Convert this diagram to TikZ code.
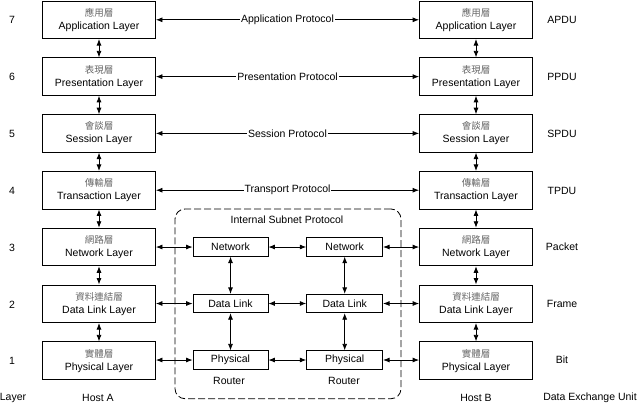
\documentclass[tikz,border=0pt]{standalone}
\usepackage{fontspec}
\setmainfont{Liberation Sans}
\newfontfamily\cjk{Noto Sans CJK TC}
\usetikzlibrary{arrows.meta}
\newcommand\zhtxt[1]{{\color{black!60}\cjk\fontsize{9.5}{13}\selectfont #1}}
\begin{document}
\begin{tikzpicture}[x=1pt,y=-1pt,
  font=\fontsize{10.5}{13}\selectfont,
  lay/.style={draw, line width=0.8pt, minimum width=113pt, minimum height=37.7pt, inner sep=0pt, align=center},
  rt/.style={draw, line width=0.8pt, minimum height=18.5pt, inner sep=0pt},
  dbl/.style={{Latex[length=6.5pt,width=5pt]}-{Latex[length=6.5pt,width=5pt]}, line width=0.8pt},
  plabel/.style={fill=white, inner sep=1pt},
  txt/.style={inner sep=0pt}]
\useasboundingbox (0,0) rectangle (637,405);
% subnet
\node[draw, dashed, dash pattern=on 7pt off 3pt, rounded corners=10pt, line width=0.8pt,
      minimum width=226pt, minimum height=189.7pt, inner sep=0pt] (subnet) at (288,303.85) {};
% Host A
\node[lay] (a7) at (99,19.8) {\zhtxt{應用層}\\Application Layer};
\node[lay] (a6) at (99,76.6) {\zhtxt{表現層}\\Presentation Layer};
\node[lay] (a5) at (99,133.4) {\zhtxt{會談層}\\Session Layer};
\node[lay] (a4) at (99,190.2) {\zhtxt{傳輸層}\\Transaction Layer};
\node[lay] (a3) at (99,247) {\zhtxt{網路層}\\Network Layer};
\node[lay] (a2) at (99,303.8) {\zhtxt{資料連結層}\\Data Link Layer};
\node[lay] (a1) at (99,360.6) {\zhtxt{實體層}\\Physical Layer};
% Host B
\node[lay] (b7) at (476,19.8) {\zhtxt{應用層}\\Application Layer};
\node[lay] (b6) at (476,76.6) {\zhtxt{表現層}\\Presentation Layer};
\node[lay] (b5) at (476,133.4) {\zhtxt{會談層}\\Session Layer};
\node[lay] (b4) at (476,190.2) {\zhtxt{傳輸層}\\Transaction Layer};
\node[lay] (b3) at (476,247) {\zhtxt{網路層}\\Network Layer};
\node[lay] (b2) at (476,303.8) {\zhtxt{資料連結層}\\Data Link Layer};
\node[lay] (b1) at (476,360.6) {\zhtxt{實體層}\\Physical Layer};
% Routers
\node[rt, minimum width=75pt] (n1) at (230.5,247) {Network};
\node[rt, minimum width=75pt] (d1) at (230.5,303.5) {Data Link};
\node[rt, minimum width=75pt] (p1) at (230.5,360) {Physical};
\node[rt, minimum width=76pt] (n2) at (344.7,247) {Network};
\node[rt, minimum width=76pt] (d2) at (344.7,303.5) {Data Link};
\node[rt, minimum width=76pt] (p2) at (344.7,360) {Physical};
% layer numbers
\node[txt] (l7) at (12,20) {7};
\node[txt] (l6) at (12,77) {6};
\node[txt] (l5) at (12,134) {5};
\node[txt] (l4) at (12,191) {4};
\node[txt] (l3) at (12,248) {3};
\node[txt] (l2) at (12,305) {2};
\node[txt] (l1) at (12,361) {1};
% units
\node[txt] (u7) at (562,20) {APDU};
\node[txt] (u6) at (562,77) {PPDU};
\node[txt] (u5) at (562,134) {SPDU};
\node[txt] (u4) at (562,191) {TPDU};
\node[txt] (u3) at (562,247) {Packet};
\node[txt] (u2) at (562,304) {Frame};
\node[txt] (u1) at (562,360) {Bit};
% bottom labels
\node[txt] (layer) at (13,398) {Layer};
\node[txt] (hosta) at (98,398) {Host A};
\node[txt] (hostb) at (476,398) {Host B};
\node[txt] (deu) at (590,398) {Data Exchange Unit};
\node[txt] (isp) at (287,220) {Internal Subnet Protocol};
\node[txt] (r1) at (229,381) {Router};
\node[txt] (r2) at (344,381) {Router};
% vertical arrows hosts
\foreach \h in {a,b}{
  \draw[dbl] (\h7) -- (\h6);
  \draw[dbl] (\h6) -- (\h5);
  \draw[dbl] (\h5) -- (\h4);
  \draw[dbl] (\h4) -- (\h3);
  \draw[dbl] (\h3) -- (\h2);
  \draw[dbl] (\h2) -- (\h1);
}
% router vertical
\draw[dbl] (n1) -- (d1);
\draw[dbl] (d1) -- (p1);
\draw[dbl] (n2) -- (d2);
\draw[dbl] (d2) -- (p2);
% peer protocols
\draw[dbl] (a7) -- node[plabel] {Application Protocol} (b7);
\draw[dbl] (a6) -- node[plabel] {Presentation Protocol} (b6);
\draw[dbl] (a5) -- node[plabel] {Session Protocol} (b5);
\draw[dbl] (a4) -- node[plabel] {Transport Protocol} (b4);
% subnet links
\draw[dbl] (a3) -- (n1);
\draw[dbl] (n1) -- (n2);
\draw[dbl] (n2) -- (b3);
\draw[dbl] (a2.east |- d1) -- (d1);
\draw[dbl] (d1) -- (d2);
\draw[dbl] (d2) -- (b2.west |- d2);
\draw[dbl] (a1.east |- p1) -- (p1);
\draw[dbl] (p1) -- (p2);
\draw[dbl] (p2) -- (b1.west |- p2);
\end{tikzpicture}
\end{document}
